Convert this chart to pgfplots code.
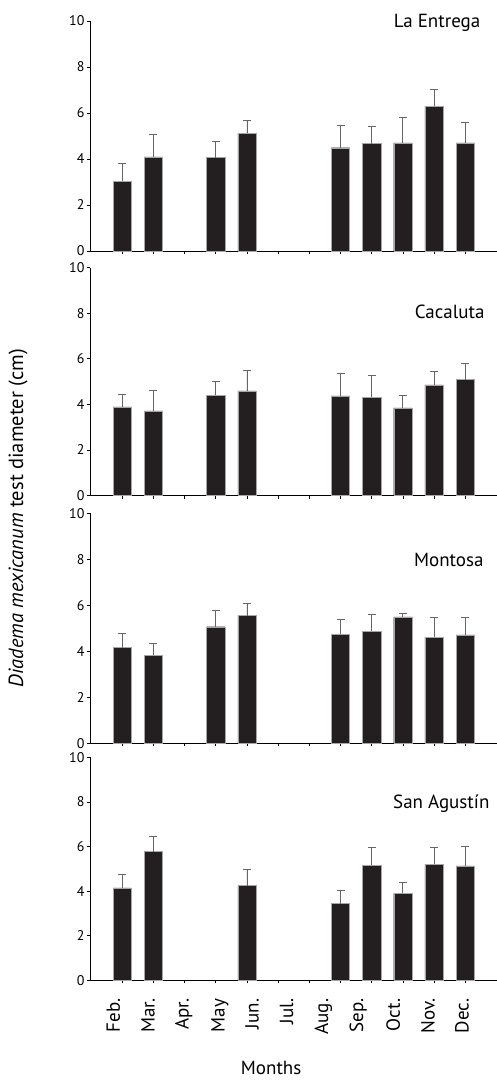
\documentclass[border=0pt]{standalone}
\usepackage{fontspec}
\setmainfont{PT Sans}
\usepackage{pgfplots}
\pgfplotsset{compat=1.18}
\definecolor{barblack}{HTML}{231F20}
\definecolor{errgray}{HTML}{666666}
\pgfplotsset{
  panel/.style={
    scale only axis, width=407pt,
    xmin=-1.036, xmax=12.02, ymin=0, ymax=10,
    ytick={0,2,...,10}, xtick={0,...,11}, xticklabels={},
    axis x line*=bottom, axis y line*=left,
    tick align=outside, major tick length=3pt,
    axis line style={black, line width=0.8pt},
    tick style={black, line width=0.7pt},
    /pgf/number format/assume math mode=true,
    tick label style={font=\fontsize{14}{16}\selectfont},
    yticklabel style={xshift=1pt},
    ybar, bar width=18.3pt,
    clip=false,
  },
  bars/.style={
    fill=barblack, draw=gray!70, line width=0.4pt,
    error bars/.cd, y dir=plus, y explicit,
    error bar style={errgray, line width=0.8pt},
    error mark options={rotate=90, errgray, mark size=4pt, line width=0.8pt},
  },
}
\tikzset{ttl/.style={anchor=east, font=\fontsize{19}{22}\selectfont}}
\begin{document}
\begin{tikzpicture}
\path[use as bounding box] (0,0) rectangle (497pt,-1080pt);

% Panel 1: La Entrega
\begin{axis}[panel, height=230pt, at={(90pt,-251pt)}, anchor=south west]
\addplot[bars] coordinates {
 (0,3.04) +- (0,0.77)
 (1,4.09) +- (0,0.97)
 (3,4.06) +- (0,0.72)
 (4,5.13) +- (0,0.54)
 (7,4.49) +- (0,0.99)
 (8,4.67) +- (0,0.75)
 (9,4.70) +- (0,1.13)
 (10,6.29) +- (0,0.74)
 (11,4.70) +- (0,0.88)
};
\node[ttl] at (axis cs:11.6,9.9) {La Entrega};
\end{axis}

% Panel 2: Cacaluta
\begin{axis}[panel, height=228pt, at={(90pt,-495.5pt)}, anchor=south west,
  ylabel={\textit{Diadema mexicanum} test diameter (cm)},
  ylabel style={at={(rel axis cs:-0.177,-0.099)}, anchor=center, font=\fontsize{20.5}{24}\selectfont}]
\addplot[bars] coordinates {
 (0,3.89) +- (0,0.54)
 (1,3.71) +- (0,0.89)
 (3,4.40) +- (0,0.62)
 (4,4.59) +- (0,0.91)
 (7,4.37) +- (0,1.00)
 (8,4.31) +- (0,0.95)
 (9,3.84) +- (0,0.56)
 (10,4.85) +- (0,0.61)
 (11,5.08) +- (0,0.71)
};
\node[ttl] at (axis cs:11.73,8.06) {Cacaluta};
\end{axis}

% Panel 3: Montosa
\begin{axis}[panel, height=230pt, at={(90pt,-743.3pt)}, anchor=south west]
\addplot[bars] coordinates {
 (0,4.16) +- (0,0.64)
 (1,3.83) +- (0,0.52)
 (3,5.07) +- (0,0.73)
 (4,5.55) +- (0,0.52)
 (7,4.74) +- (0,0.66)
 (8,4.88) +- (0,0.71)
 (9,5.50) +- (0,0.15)
 (10,4.62) +- (0,0.84)
 (11,4.72) +- (0,0.74)
};
\node[ttl] at (axis cs:11.7,7.97) {Montosa};
\end{axis}

% Panel 4: San Agustin
\begin{axis}[panel, height=223pt, at={(90pt,-980.3pt)}, anchor=south west,
  extra x ticks={-0.29,0.83,1.97,3.13,4.16,5.27,6.45,7.57,8.69,9.81,10.90},
  extra x tick labels={Feb.,Mar.,Apr.,May,Jun.,Jul.,Aug.,Sep.,Oct.,Nov.,Dec.},
  extra x tick style={major tick length=0pt,
    xticklabel style={yshift=-15pt, rotate=90, anchor=east, font=\fontsize{19}{22}\selectfont}},
  xlabel={Months},
  xlabel style={at={(rel axis cs:0.445,0)}, anchor=center, yshift=-88pt, font=\fontsize{19}{22}\selectfont}]
\addplot[bars] coordinates {
 (0,4.14) +- (0,0.61)
 (1,5.77) +- (0,0.69)
 (4,4.25) +- (0,0.73)
 (7,3.44) +- (0,0.60)
 (8,5.17) +- (0,0.79)
 (9,3.90) +- (0,0.49)
 (10,5.20) +- (0,0.78)
 (11,5.13) +- (0,0.86)
};
\node[ttl] at (axis cs:11.89,7.9) {San Agustín};
\end{axis}
\end{tikzpicture}
\end{document}
